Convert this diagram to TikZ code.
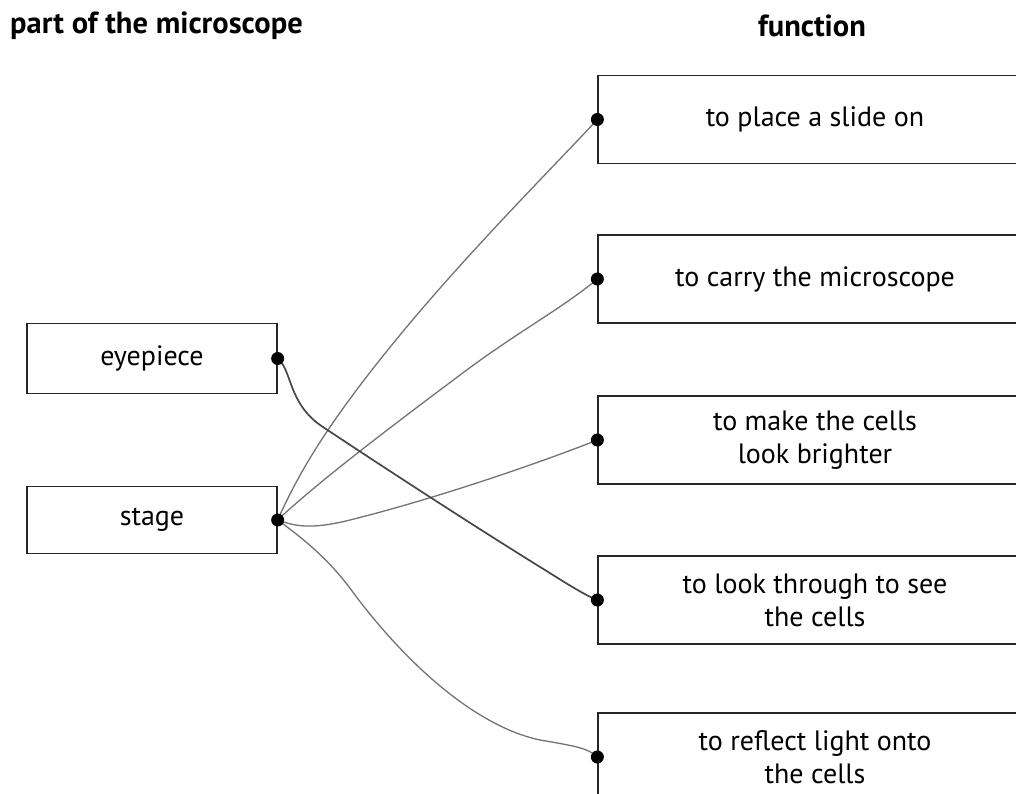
\documentclass[tikz,border=0pt]{standalone}
\usepackage{fontspec}
\setmainfont{PT Sans}
\begin{document}
\begin{tikzpicture}[x=1pt,y=-1pt,
  lbox/.style={draw=black!85,line width=1.3pt,minimum width=250pt,inner sep=0pt,font=\fontsize{28}{33}\selectfont},
  rbox/.style={draw=black!85,line width=1.3pt,minimum width=434pt,minimum height=88pt,inner sep=0pt,align=center,font=\fontsize{28}{33}\selectfont},
  head/.style={font=\bfseries\fontsize{30.5}{34}\selectfont,inner sep=0pt},
  wire/.style={draw=black!55,line width=1.3pt},
  dwire/.style={draw=black!72,line width=1.7pt},
  dot/.style={fill=black}]
\clip (0,0) rectangle (1016,794);
\fill[white] (0,0) rectangle (1016,794);
\node[head,anchor=west] (h1) at (10,26) {part of the microscope};
\node[head] (h2) at (812,26) {function};
\node[lbox,minimum height=70pt] (eye) at (152,358.5) {eyepiece};
\node[lbox,minimum height=67pt] (stage) at (152,520) {stage};
\node[rbox] (f1) at (815,119.5) {to place a slide on};
\node[rbox] (f2) at (815,279) {to carry the microscope};
\node[rbox] (f3) at (815,440) {to make the cells\\look brighter};
\node[rbox] (f4) at (815,600) {to look through to see\\the cells};
\node[rbox] (f5) at (815,757) {to reflect light onto\\the cells};
\coordinate (ed) at (eye.east);
\coordinate (sd) at (stage.east);
\coordinate (d1) at (f1.west);
\coordinate (d2) at (f2.west);
\coordinate (d3) at (f3.west);
\coordinate (d4) at (f4.west);
\coordinate (d5) at (f5.west);
% stage connectors
\path[wire] (sd) .. controls (300,470) and (330,420) .. (400,335) .. controls (470,250) and (560,160) .. (d1);
\path[wire] (sd) .. controls (320,480) and (400,420) .. (460,375) .. controls (520,330) and (560,310) .. (d2);
\path[wire] (sd) .. controls (295,526) and (310,530) .. (350,520) .. controls (450,495) and (560,455) .. (d3);
\path[wire] (sd) .. controls (305,540) and (330,560) .. (355,595) .. controls (400,655) and (470,725) .. (540,740) .. controls (575,746) and (588,748) .. (d5);
% eyepiece connector
\path[dwire] (ed) .. controls (292,370) and (288,402) .. (320,425) .. controls (380,465) and (480,530) .. (545,570) .. controls (572,587) and (585,595) .. (d4);
\foreach \p in {ed,sd,d1,d2,d3,d4,d5} \fill[dot] (\p) circle (6.5);
\end{tikzpicture}
\end{document}
